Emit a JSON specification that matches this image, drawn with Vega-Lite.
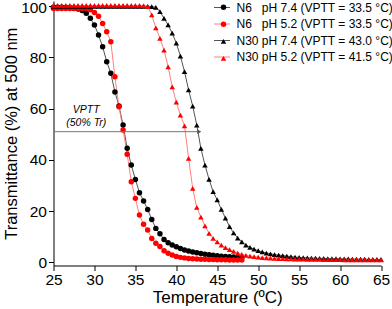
{
"$schema": "https://vega.github.io/schema/vega-lite/v6.json",
"width": 327.5, "height": 264.5,
"autosize": "none",
"padding": {"left": 53.5, "top": 1, "right": 11, "bottom": 43.5},
"config": {"font": "Liberation Sans", "view": {"stroke": null},
  "axis": {"grid": false, "domainColor": "#000", "tickColor": "#000", "labelColor": "#000", "titleColor": "#000", "labelFontSize": 15.5, "titleFontSize": 17, "titleFontWeight": "normal", "labelOverlap": false, "labelFlush": false, "labelPadding": 2, "domainWidth": 1, "tickWidth": 1}},
"datasets": {
"d": [
{"T":25,"V":99.5,"s":"N6 pH 7.4"},{"T":25.5,"V":99.5,"s":"N6 pH 7.4"},{"T":26,"V":99.5,"s":"N6 pH 7.4"},{"T":26.5,"V":99.4,"s":"N6 pH 7.4"},{"T":27,"V":99.3,"s":"N6 pH 7.4"},{"T":27.5,"V":99.1,"s":"N6 pH 7.4"},{"T":28,"V":98.8,"s":"N6 pH 7.4"},{"T":28.5,"V":98.2,"s":"N6 pH 7.4"},{"T":29,"V":97.2,"s":"N6 pH 7.4"},{"T":29.5,"V":95.2,"s":"N6 pH 7.4"},{"T":30,"V":92.6,"s":"N6 pH 7.4"},{"T":30.5,"V":88.7,"s":"N6 pH 7.4"},{"T":31,"V":84.1,"s":"N6 pH 7.4"},{"T":31.5,"V":78.3,"s":"N6 pH 7.4"},{"T":32,"V":73.8,"s":"N6 pH 7.4"},{"T":32.5,"V":66.5,"s":"N6 pH 7.4"},{"T":33,"V":61.0,"s":"N6 pH 7.4"},{"T":33.5,"V":53.6,"s":"N6 pH 7.4"},{"T":34,"V":44.5,"s":"N6 pH 7.4"},{"T":34.5,"V":38.0,"s":"N6 pH 7.4"},{"T":35,"V":32.4,"s":"N6 pH 7.4"},{"T":35.5,"V":27.2,"s":"N6 pH 7.4"},{"T":36,"V":24.0,"s":"N6 pH 7.4"},{"T":36.5,"V":20.7,"s":"N6 pH 7.4"},{"T":37,"V":16.8,"s":"N6 pH 7.4"},{"T":37.5,"V":13.3,"s":"N6 pH 7.4"},{"T":38,"V":11.2,"s":"N6 pH 7.4"},{"T":38.5,"V":9.0,"s":"N6 pH 7.4"},{"T":39,"V":7.7,"s":"N6 pH 7.4"},{"T":39.5,"V":6.8,"s":"N6 pH 7.4"},{"T":40,"V":6.1,"s":"N6 pH 7.4"},{"T":40.5,"V":5.5,"s":"N6 pH 7.4"},{"T":41,"V":4.9,"s":"N6 pH 7.4"},{"T":41.5,"V":4.5,"s":"N6 pH 7.4"},{"T":42,"V":4.1,"s":"N6 pH 7.4"},{"T":42.5,"V":3.8,"s":"N6 pH 7.4"},{"T":43,"V":3.5,"s":"N6 pH 7.4"},{"T":43.5,"V":3.2,"s":"N6 pH 7.4"},{"T":44,"V":3.0,"s":"N6 pH 7.4"},{"T":44.5,"V":2.8,"s":"N6 pH 7.4"},{"T":45,"V":2.6,"s":"N6 pH 7.4"},{"T":45.5,"V":2.4,"s":"N6 pH 7.4"},{"T":46,"V":2.3,"s":"N6 pH 7.4"},{"T":46.5,"V":2.2,"s":"N6 pH 7.4"},{"T":47,"V":2.1,"s":"N6 pH 7.4"},{"T":47.5,"V":2.0,"s":"N6 pH 7.4"},{"T":48,"V":1.9,"s":"N6 pH 7.4"},
{"T":25,"V":99.0,"s":"N6 pH 5.2"},{"T":25.5,"V":99.0,"s":"N6 pH 5.2"},{"T":26,"V":99.0,"s":"N6 pH 5.2"},{"T":26.5,"V":99.0,"s":"N6 pH 5.2"},{"T":27,"V":99.0,"s":"N6 pH 5.2"},{"T":27.5,"V":99.0,"s":"N6 pH 5.2"},{"T":28,"V":99.0,"s":"N6 pH 5.2"},{"T":28.5,"V":99.0,"s":"N6 pH 5.2"},{"T":29,"V":99.0,"s":"N6 pH 5.2"},{"T":29.5,"V":98.5,"s":"N6 pH 5.2"},{"T":30,"V":97.5,"s":"N6 pH 5.2"},{"T":30.5,"V":96.0,"s":"N6 pH 5.2"},{"T":31,"V":93.2,"s":"N6 pH 5.2"},{"T":31.5,"V":90.0,"s":"N6 pH 5.2"},{"T":32,"V":86.1,"s":"N6 pH 5.2"},{"T":32.5,"V":72.4,"s":"N6 pH 5.2"},{"T":33,"V":60.7,"s":"N6 pH 5.2"},{"T":33.5,"V":51.7,"s":"N6 pH 5.2"},{"T":34,"V":42.2,"s":"N6 pH 5.2"},{"T":34.5,"V":31.5,"s":"N6 pH 5.2"},{"T":35,"V":25.0,"s":"N6 pH 5.2"},{"T":35.5,"V":18.5,"s":"N6 pH 5.2"},{"T":36,"V":14.9,"s":"N6 pH 5.2"},{"T":36.5,"V":12.7,"s":"N6 pH 5.2"},{"T":37,"V":9.4,"s":"N6 pH 5.2"},{"T":37.5,"V":7.5,"s":"N6 pH 5.2"},{"T":38,"V":6.2,"s":"N6 pH 5.2"},{"T":38.5,"V":4.6,"s":"N6 pH 5.2"},{"T":39,"V":3.6,"s":"N6 pH 5.2"},{"T":39.5,"V":2.9,"s":"N6 pH 5.2"},{"T":40,"V":2.3,"s":"N6 pH 5.2"},{"T":40.5,"V":2.0,"s":"N6 pH 5.2"},{"T":41,"V":1.8,"s":"N6 pH 5.2"},{"T":41.5,"V":1.6,"s":"N6 pH 5.2"},{"T":42,"V":1.5,"s":"N6 pH 5.2"},{"T":42.5,"V":1.4,"s":"N6 pH 5.2"},{"T":43,"V":1.3,"s":"N6 pH 5.2"},{"T":43.5,"V":1.3,"s":"N6 pH 5.2"},{"T":44,"V":1.2,"s":"N6 pH 5.2"},{"T":44.5,"V":1.2,"s":"N6 pH 5.2"},{"T":45,"V":1.1,"s":"N6 pH 5.2"},{"T":45.5,"V":1.1,"s":"N6 pH 5.2"},{"T":46,"V":1.1,"s":"N6 pH 5.2"},{"T":46.5,"V":1.0,"s":"N6 pH 5.2"},{"T":47,"V":1.0,"s":"N6 pH 5.2"},{"T":47.5,"V":1.0,"s":"N6 pH 5.2"},{"T":48,"V":1.0,"s":"N6 pH 5.2"},
{"T":25,"V":99.9,"s":"N30 pH 7.4"},{"T":25.5,"V":99.9,"s":"N30 pH 7.4"},{"T":26,"V":99.9,"s":"N30 pH 7.4"},{"T":26.5,"V":99.9,"s":"N30 pH 7.4"},{"T":27,"V":99.9,"s":"N30 pH 7.4"},{"T":27.5,"V":99.9,"s":"N30 pH 7.4"},{"T":28,"V":99.9,"s":"N30 pH 7.4"},{"T":28.5,"V":99.9,"s":"N30 pH 7.4"},{"T":29,"V":99.9,"s":"N30 pH 7.4"},{"T":29.5,"V":99.9,"s":"N30 pH 7.4"},{"T":30,"V":99.9,"s":"N30 pH 7.4"},{"T":30.5,"V":99.9,"s":"N30 pH 7.4"},{"T":31,"V":99.9,"s":"N30 pH 7.4"},{"T":31.5,"V":99.9,"s":"N30 pH 7.4"},{"T":32,"V":99.9,"s":"N30 pH 7.4"},{"T":32.5,"V":99.9,"s":"N30 pH 7.4"},{"T":33,"V":99.9,"s":"N30 pH 7.4"},{"T":33.5,"V":99.9,"s":"N30 pH 7.4"},{"T":34,"V":99.9,"s":"N30 pH 7.4"},{"T":34.5,"V":99.9,"s":"N30 pH 7.4"},{"T":35,"V":99.9,"s":"N30 pH 7.4"},{"T":35.5,"V":99.9,"s":"N30 pH 7.4"},{"T":36,"V":99.9,"s":"N30 pH 7.4"},{"T":36.5,"V":99.9,"s":"N30 pH 7.4"},{"T":37,"V":99.8,"s":"N30 pH 7.4"},{"T":37.5,"V":99.5,"s":"N30 pH 7.4"},{"T":38,"V":97.8,"s":"N30 pH 7.4"},{"T":38.5,"V":95.2,"s":"N30 pH 7.4"},{"T":39,"V":92.6,"s":"N30 pH 7.4"},{"T":39.5,"V":89.4,"s":"N30 pH 7.4"},{"T":40,"V":85.5,"s":"N30 pH 7.4"},{"T":40.5,"V":80.5,"s":"N30 pH 7.4"},{"T":41,"V":74.4,"s":"N30 pH 7.4"},{"T":41.5,"V":67.3,"s":"N30 pH 7.4"},{"T":42,"V":61.0,"s":"N30 pH 7.4"},{"T":42.5,"V":53.6,"s":"N30 pH 7.4"},{"T":43,"V":44.5,"s":"N30 pH 7.4"},{"T":43.5,"V":38.0,"s":"N30 pH 7.4"},{"T":44,"V":32.4,"s":"N30 pH 7.4"},{"T":44.5,"V":27.6,"s":"N30 pH 7.4"},{"T":45,"V":24.4,"s":"N30 pH 7.4"},{"T":45.5,"V":20.7,"s":"N30 pH 7.4"},{"T":46,"V":17.3,"s":"N30 pH 7.4"},{"T":46.5,"V":14.0,"s":"N30 pH 7.4"},{"T":47,"V":11.5,"s":"N30 pH 7.4"},{"T":47.5,"V":9.5,"s":"N30 pH 7.4"},{"T":48,"V":8.0,"s":"N30 pH 7.4"},{"T":48.5,"V":6.8,"s":"N30 pH 7.4"},{"T":49,"V":5.9,"s":"N30 pH 7.4"},{"T":49.5,"V":5.2,"s":"N30 pH 7.4"},{"T":50,"V":4.6,"s":"N30 pH 7.4"},{"T":50.5,"V":4.1,"s":"N30 pH 7.4"},{"T":51,"V":3.7,"s":"N30 pH 7.4"},{"T":51.5,"V":3.4,"s":"N30 pH 7.4"},{"T":52,"V":3.1,"s":"N30 pH 7.4"},{"T":52.5,"V":2.9,"s":"N30 pH 7.4"},{"T":53,"V":2.7,"s":"N30 pH 7.4"},{"T":53.5,"V":2.5,"s":"N30 pH 7.4"},{"T":54,"V":2.3,"s":"N30 pH 7.4"},{"T":54.5,"V":2.1,"s":"N30 pH 7.4"},{"T":55,"V":2.0,"s":"N30 pH 7.4"},{"T":55.5,"V":1.9,"s":"N30 pH 7.4"},{"T":56,"V":1.8,"s":"N30 pH 7.4"},{"T":56.5,"V":1.7,"s":"N30 pH 7.4"},{"T":57,"V":1.7,"s":"N30 pH 7.4"},{"T":57.5,"V":1.6,"s":"N30 pH 7.4"},{"T":58,"V":1.6,"s":"N30 pH 7.4"},{"T":58.5,"V":1.5,"s":"N30 pH 7.4"},{"T":59,"V":1.5,"s":"N30 pH 7.4"},{"T":59.5,"V":1.5,"s":"N30 pH 7.4"},{"T":60,"V":1.4,"s":"N30 pH 7.4"},{"T":60.5,"V":1.4,"s":"N30 pH 7.4"},{"T":61,"V":1.4,"s":"N30 pH 7.4"},{"T":61.5,"V":1.3,"s":"N30 pH 7.4"},{"T":62,"V":1.3,"s":"N30 pH 7.4"},{"T":62.5,"V":1.3,"s":"N30 pH 7.4"},{"T":63,"V":1.3,"s":"N30 pH 7.4"},{"T":63.5,"V":1.2,"s":"N30 pH 7.4"},{"T":64,"V":1.2,"s":"N30 pH 7.4"},{"T":64.5,"V":1.2,"s":"N30 pH 7.4"},{"T":65,"V":1.2,"s":"N30 pH 7.4"},
{"T":25,"V":100.2,"s":"N30 pH 5.2"},{"T":25.5,"V":100.2,"s":"N30 pH 5.2"},{"T":26,"V":100.2,"s":"N30 pH 5.2"},{"T":26.5,"V":100.2,"s":"N30 pH 5.2"},{"T":27,"V":100.2,"s":"N30 pH 5.2"},{"T":27.5,"V":100.2,"s":"N30 pH 5.2"},{"T":28,"V":100.2,"s":"N30 pH 5.2"},{"T":28.5,"V":100.2,"s":"N30 pH 5.2"},{"T":29,"V":100.2,"s":"N30 pH 5.2"},{"T":29.5,"V":100.2,"s":"N30 pH 5.2"},{"T":30,"V":100.2,"s":"N30 pH 5.2"},{"T":30.5,"V":100.2,"s":"N30 pH 5.2"},{"T":31,"V":100.2,"s":"N30 pH 5.2"},{"T":31.5,"V":100.2,"s":"N30 pH 5.2"},{"T":32,"V":100.2,"s":"N30 pH 5.2"},{"T":32.5,"V":100.2,"s":"N30 pH 5.2"},{"T":33,"V":100.2,"s":"N30 pH 5.2"},{"T":33.5,"V":100.2,"s":"N30 pH 5.2"},{"T":34,"V":100.2,"s":"N30 pH 5.2"},{"T":34.5,"V":100.2,"s":"N30 pH 5.2"},{"T":35,"V":100.2,"s":"N30 pH 5.2"},{"T":35.5,"V":100.2,"s":"N30 pH 5.2"},{"T":36,"V":100.1,"s":"N30 pH 5.2"},{"T":36.5,"V":99.8,"s":"N30 pH 5.2"},{"T":37,"V":96.5,"s":"N30 pH 5.2"},{"T":37.5,"V":91.5,"s":"N30 pH 5.2"},{"T":38,"V":87.4,"s":"N30 pH 5.2"},{"T":38.5,"V":82.8,"s":"N30 pH 5.2"},{"T":39,"V":76.3,"s":"N30 pH 5.2"},{"T":39.5,"V":68.5,"s":"N30 pH 5.2"},{"T":40,"V":62.5,"s":"N30 pH 5.2"},{"T":40.5,"V":57.5,"s":"N30 pH 5.2"},{"T":41,"V":53.3,"s":"N30 pH 5.2"},{"T":41.5,"V":40.6,"s":"N30 pH 5.2"},{"T":42,"V":28.9,"s":"N30 pH 5.2"},{"T":42.5,"V":21.5,"s":"N30 pH 5.2"},{"T":43,"V":17.7,"s":"N30 pH 5.2"},{"T":43.5,"V":14.3,"s":"N30 pH 5.2"},{"T":44,"V":11.4,"s":"N30 pH 5.2"},{"T":44.5,"V":9.4,"s":"N30 pH 5.2"},{"T":45,"V":8.0,"s":"N30 pH 5.2"},{"T":45.5,"V":6.8,"s":"N30 pH 5.2"},{"T":46,"V":5.8,"s":"N30 pH 5.2"},{"T":46.5,"V":5.0,"s":"N30 pH 5.2"},{"T":47,"V":4.3,"s":"N30 pH 5.2"},{"T":47.5,"V":3.7,"s":"N30 pH 5.2"},{"T":48,"V":3.2,"s":"N30 pH 5.2"},{"T":48.5,"V":2.8,"s":"N30 pH 5.2"},{"T":49,"V":2.5,"s":"N30 pH 5.2"},{"T":49.5,"V":2.3,"s":"N30 pH 5.2"},{"T":50,"V":2.1,"s":"N30 pH 5.2"},{"T":50.5,"V":1.9,"s":"N30 pH 5.2"},{"T":51,"V":1.8,"s":"N30 pH 5.2"},{"T":51.5,"V":1.7,"s":"N30 pH 5.2"},{"T":52,"V":1.6,"s":"N30 pH 5.2"},{"T":52.5,"V":1.5,"s":"N30 pH 5.2"},{"T":53,"V":1.5,"s":"N30 pH 5.2"},{"T":53.5,"V":1.4,"s":"N30 pH 5.2"},{"T":54,"V":1.4,"s":"N30 pH 5.2"},{"T":54.5,"V":1.3,"s":"N30 pH 5.2"},{"T":55,"V":1.3,"s":"N30 pH 5.2"},{"T":55.5,"V":1.3,"s":"N30 pH 5.2"},{"T":56,"V":1.2,"s":"N30 pH 5.2"},{"T":56.5,"V":1.2,"s":"N30 pH 5.2"},{"T":57,"V":1.2,"s":"N30 pH 5.2"},{"T":57.5,"V":1.2,"s":"N30 pH 5.2"},{"T":58,"V":1.1,"s":"N30 pH 5.2"},{"T":58.5,"V":1.1,"s":"N30 pH 5.2"},{"T":59,"V":1.1,"s":"N30 pH 5.2"},{"T":59.5,"V":1.1,"s":"N30 pH 5.2"},{"T":60,"V":1.1,"s":"N30 pH 5.2"},{"T":60.5,"V":1.0,"s":"N30 pH 5.2"},{"T":61,"V":1.0,"s":"N30 pH 5.2"},{"T":61.5,"V":1.0,"s":"N30 pH 5.2"},{"T":62,"V":1.0,"s":"N30 pH 5.2"},{"T":62.5,"V":1.0,"s":"N30 pH 5.2"},{"T":63,"V":1.0,"s":"N30 pH 5.2"},{"T":63.5,"V":1.0,"s":"N30 pH 5.2"},{"T":64,"V":1.0,"s":"N30 pH 5.2"},{"T":64.5,"V":1.0,"s":"N30 pH 5.2"},{"T":65,"V":1.0,"s":"N30 pH 5.2"}
],
"vptt": [{"T": 25, "T2": 42.8, "V": 51}],
"arrow": [{"T": 42.8, "V": 51}],
"notes": [{"T": 29.0, "V": 59.3, "text": "VPTT"}, {"T": 29.0, "V": 54.2, "text": "(50% Tr)"}]
},
"layer": [
{"data": {"name": "d"}, "mark": {"type": "line", "strokeWidth": 1},
 "encoding": {
  "x": {"field": "T", "type": "quantitative", "scale": {"domain": [25, 65], "nice": false, "zero": false},
    "axis": {"title": "Temperature (ºC)", "values": [25,27.5,30,32.5,35,37.5,40,42.5,45,47.5,50,52.5,55,57.5,60,62.5,65],
      "labelExpr": "datum.value % 5 === 0 ? datum.label : ''", "labelOverlap": false,
      "tickSize": {"condition": {"test": "datum.value % 5 !== 0", "value": 3}, "value": 5},
      "titlePadding": 1}},
  "y": {"field": "V", "type": "quantitative", "scale": {"domain": [-1.17, 101.95], "nice": false, "zero": false},
    "axis": {"title": "Transmittance (%) at 500 nm", "titleFontSize": 16.5, "values": [0,5,10,15,20,25,30,35,40,45,50,55,60,65,70,75,80,85,90,95,100],
      "labelExpr": "datum.value % 10 === 0 ? datum.label : ''", "labelOverlap": false,
      "labelOffset": {"condition": {"test": "datum.value === 100", "value": 1.5}, "value": 0},
      "tickSize": {"condition": {"test": "datum.value % 10 !== 0", "value": 3}, "value": 5},
      "titlePadding": 1}},
  "stroke": {"field": "s", "type": "nominal", "sort": "descending",
    "scale": {"range": ["#555555", "#ff8080", "#555555", "#ff8080"]},
    "legend": {"title": null, "orient": "none", "legendX": 160, "legendY": -2, "padding": 0, "symbolType": "stroke", "symbolSize": 256, "symbolStrokeWidth": 1, "rowPadding": 1.5, "labelOffset": 6, "labelFontSize": 12, "labelColor": "#000", "labelLimit": 300,
      "labelExpr": "{'N6 pH 7.4': 'N6\u00a0\u00a0\u00a0pH 7.4 (VPTT = 33.5 °C)', 'N6 pH 5.2': 'N6\u00a0\u00a0\u00a0pH 5.2 (VPTT = 33.5 °C)', 'N30 pH 7.4': 'N30 pH 7.4 (VPTT = 43.0 °C)', 'N30 pH 5.2': 'N30 pH 5.2 (VPTT = 41.5 °C)'}[datum.label]"}}
 }},
{"data": {"name": "d"}, "mark": {"type": "point", "filled": true, "opacity": 1, "strokeWidth": 0},
 "encoding": {
  "x": {"field": "T", "type": "quantitative"},
  "y": {"field": "V", "type": "quantitative"},
  "fill": {"field": "s", "type": "nominal",
    "scale": {"domain": ["N6 pH 7.4", "N6 pH 5.2", "N30 pH 7.4", "N30 pH 5.2"], "range": ["#000000", "#ff0000", "#000000", "#ff0000"]},
    "legend": {"title": null, "orient": "none", "legendX": 165, "legendY": 1.3, "padding": 0, "rowPadding": 7, "labelExpr": "''", "labelOffset": 0, "symbolStrokeWidth": 0, "symbolOpacity": 1}},
  "shape": {"field": "s", "type": "nominal",
    "scale": {"domain": ["N6 pH 7.4", "N6 pH 5.2", "N30 pH 7.4", "N30 pH 5.2"], "range": ["circle", "circle", "triangle-up", "triangle-up"]},
    "legend": {"title": null, "orient": "none", "legendX": 165, "legendY": 1.3, "padding": 0, "rowPadding": 7, "labelExpr": "''", "labelOffset": 0, "symbolStrokeWidth": 0, "symbolOpacity": 1}},
  "size": {"field": "s", "type": "nominal",
    "scale": {"domain": ["N6 pH 7.4", "N6 pH 5.2", "N30 pH 7.4", "N30 pH 5.2"], "range": [30, 30, 50, 50]},
    "legend": {"title": null, "orient": "none", "legendX": 165, "legendY": 1.3, "padding": 0, "rowPadding": 7, "labelExpr": "''", "labelOffset": 0, "symbolStrokeWidth": 0, "symbolOpacity": 1}}
 }},
{"data": {"name": "vptt"}, "mark": {"type": "rule", "color": "#777777", "strokeWidth": 1},
 "encoding": {"x": {"field": "T", "type": "quantitative"}, "x2": {"field": "T2"}, "y": {"field": "V", "type": "quantitative"}}},
{"data": {"name": "arrow"}, "mark": {"type": "point", "shape": "triangle-right", "filled": true, "color": "#555555", "size": 22, "opacity": 1},
 "encoding": {"x": {"field": "T", "type": "quantitative"}, "y": {"field": "V", "type": "quantitative"}}},
{"data": {"name": "notes"}, "mark": {"type": "text", "fontSize": 10.5, "fontStyle": "italic", "color": "#000", "align": "center", "baseline": "middle"},
 "encoding": {"x": {"field": "T", "type": "quantitative"}, "y": {"field": "V", "type": "quantitative"}, "text": {"field": "text"}}}
]
}
